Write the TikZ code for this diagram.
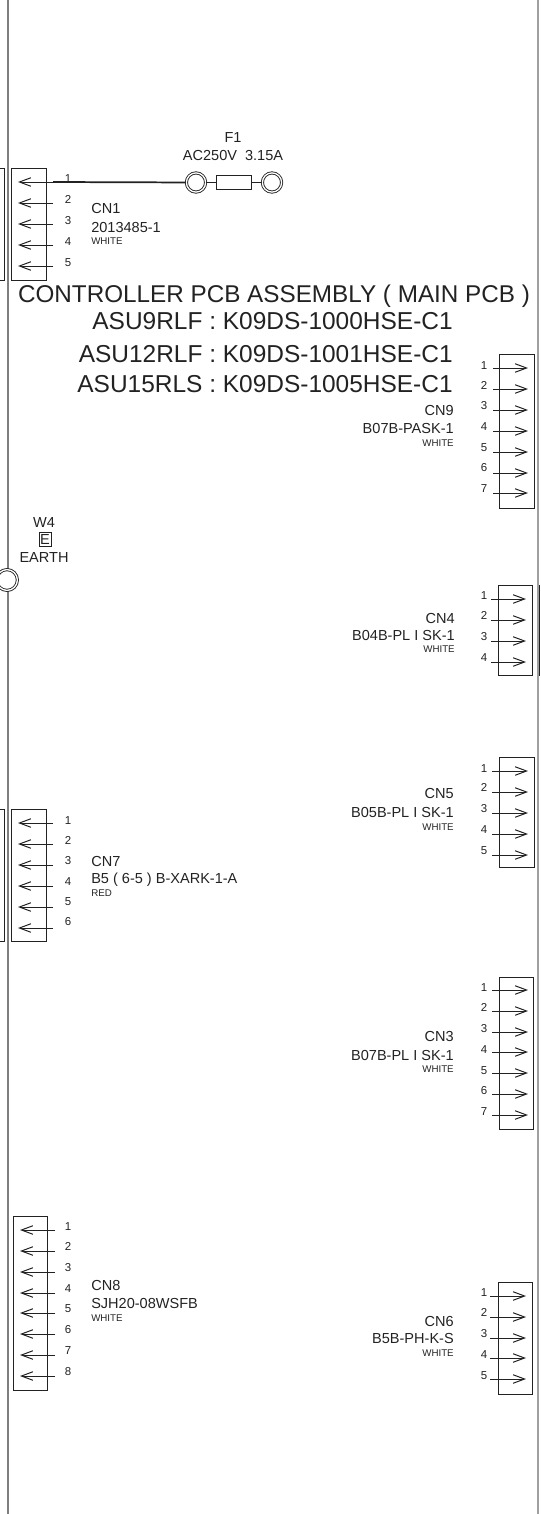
\documentclass[tikz,border=0pt]{standalone}
\usepackage{fontspec}
\setmainfont{Liberation Sans}
\usepackage{xcolor}
\usetikzlibrary{arrows.meta}
\definecolor{pcbink}{HTML}{222222}
\definecolor{pcbgray}{HTML}{7F7F7F}
\definecolor{pcbedge}{HTML}{A0A0A0}

\begin{document}
\begin{tikzpicture}[x=0.75pt,y=-0.75pt]
        \tikzset{
        pcb box/.style={rectangle,draw=pcbink,line width=0.75pt,minimum width=26.2pt,inner sep=0},
        pcb pin/.style={draw=pcbink,line width=0.75pt,-{Straight Barb[length=8.6pt,width=6.4pt]}},
        pcb num/.style={font=\fontsize{8.6}{10}\selectfont,text=pcbink,inner sep=0,text height=6.2pt,text depth=0pt},
        pcb text/.style={font=\fontsize{10.9}{12}\selectfont,text=pcbink,inner sep=0,text height=7.8pt,text depth=0pt},
        pcb color/.style={font=\fontsize{7.3}{9}\selectfont,text=pcbink,inner sep=0,text height=5.3pt,text depth=0pt},
        pcb title/.style={font=\fontsize{18.2}{20}\selectfont,text=pcbink,inner sep=0,text height=13.1pt,text depth=0pt},
        pcb model/.style={font=\fontsize{18.35}{20}\selectfont,text=pcbink,inner sep=0,text height=13.2pt,text depth=0pt},
        pcb ring/.style={circle,draw=pcbink,fill=white,line width=0.65pt,double=white,double distance=1pt,inner sep=0}
        }
        \useasboundingbox (0,0) rectangle (540,1514);

        % frame lines
        \coordinate (lefttop) at (8,0);
        \coordinate (leftend) at (8,1514);
        \coordinate (righttop) at (538,0);
        \coordinate (rightend) at (538,1514);
        \coordinate (bartop) at (539.6,585);
        \coordinate (barend) at (539.6,676);
        \draw[pcbgray,line width=1.4pt] (lefttop) -- (leftend);
        \draw[pcbedge,line width=0.9pt] (righttop) -- (rightend);
        \draw[pcbink,line width=0.9pt] (bartop) -- (barend);

        % connector bodies
        \node[pcb box,minimum height=84pt] (cn1) at (28.7,224) {};
        \node[pcb box,minimum height=84pt,minimum width=30pt] (cn1out) at (-16,224) {};
        \node[pcb box,minimum height=115.5pt,minimum width=26.6pt] (cn9) at (517,431) {};
        \node[pcb box,minimum height=68.2pt] (cn4) at (515.5,630.5) {};
        \node[pcb box,minimum height=83.2pt] (cn5) at (517,812.5) {};
        \node[pcb box,minimum height=114pt] (cn3) at (516.5,1053) {};
        \node[pcb box,minimum height=99.7pt] (cn7) at (28.7,875.5) {};
        \node[pcb box,minimum height=99.7pt,minimum width=30pt] (cn7out) at (-16,875.5) {};
        \node[pcb box,minimum height=130.5pt] (cn8) at (30.5,1303) {};
        \node[pcb box,minimum height=84pt] (cn6) at (515.5,1338) {};

        % CN1 pins
        \coordinate (cn1a1) at (53,182); \coordinate (cn1b1) at (18,182); \node[pcb num] (cn1n1) at (68,178) {1};
        \coordinate (cn1a2) at (53,203); \coordinate (cn1b2) at (18,203); \node[pcb num] (cn1n2) at (68,199) {2};
        \coordinate (cn1a3) at (53,224); \coordinate (cn1b3) at (18,224); \node[pcb num] (cn1n3) at (68,220) {3};
        \coordinate (cn1a4) at (53,245); \coordinate (cn1b4) at (18,245); \node[pcb num] (cn1n4) at (68,241) {4};
        \coordinate (cn1a5) at (53,266); \coordinate (cn1b5) at (18,266); \node[pcb num] (cn1n5) at (68,262) {5};
        % CN7 pins
        \coordinate (cn7a1) at (53,823); \coordinate (cn7b1) at (18,823); \node[pcb num] (cn7n1) at (68,820) {1};
        \coordinate (cn7a2) at (53,844); \coordinate (cn7b2) at (18,844); \node[pcb num] (cn7n2) at (68,840) {2};
        \coordinate (cn7a3) at (53,865); \coordinate (cn7b3) at (18,865); \node[pcb num] (cn7n3) at (68,860) {3};
        \coordinate (cn7a4) at (53,886); \coordinate (cn7b4) at (18,886); \node[pcb num] (cn7n4) at (68,881) {4};
        \coordinate (cn7a5) at (53,907); \coordinate (cn7b5) at (18,907); \node[pcb num] (cn7n5) at (68,901) {5};
        \coordinate (cn7a6) at (53,928); \coordinate (cn7b6) at (18,928); \node[pcb num] (cn7n6) at (68,921) {6};
        % CN8 pins
        \coordinate (cn8a1) at (55,1230); \coordinate (cn8b1) at (20,1230); \node[pcb num] (cn8n1) at (68,1226) {1};
        \coordinate (cn8a2) at (55,1251); \coordinate (cn8b2) at (20,1251); \node[pcb num] (cn8n2) at (68,1246) {2};
        \coordinate (cn8a3) at (55,1272); \coordinate (cn8b3) at (20,1272); \node[pcb num] (cn8n3) at (68,1267) {3};
        \coordinate (cn8a4) at (55,1293); \coordinate (cn8b4) at (20,1293); \node[pcb num] (cn8n4) at (68,1288) {4};
        \coordinate (cn8a5) at (55,1313); \coordinate (cn8b5) at (20,1313); \node[pcb num] (cn8n5) at (68,1308) {5};
        \coordinate (cn8a6) at (55,1334); \coordinate (cn8b6) at (20,1334); \node[pcb num] (cn8n6) at (68,1329) {6};
        \coordinate (cn8a7) at (55,1355); \coordinate (cn8b7) at (20,1355); \node[pcb num] (cn8n7) at (68,1350) {7};
        \coordinate (cn8a8) at (55,1376); \coordinate (cn8b8) at (20,1376); \node[pcb num] (cn8n8) at (68,1371) {8};
        % CN9 pins
        \coordinate (cn9a1) at (493,368); \coordinate (cn9b1) at (528,368); \node[pcb num] (cn9n1) at (484,365) {1};
        \coordinate (cn9a2) at (493,389); \coordinate (cn9b2) at (528,389); \node[pcb num] (cn9n2) at (484,385) {2};
        \coordinate (cn9a3) at (493,410); \coordinate (cn9b3) at (528,410); \node[pcb num] (cn9n3) at (484,405) {3};
        \coordinate (cn9a4) at (493,431); \coordinate (cn9b4) at (528,431); \node[pcb num] (cn9n4) at (484,426) {4};
        \coordinate (cn9a5) at (493,452); \coordinate (cn9b5) at (528,452); \node[pcb num] (cn9n5) at (484,447) {5};
        \coordinate (cn9a6) at (493,473); \coordinate (cn9b6) at (528,473); \node[pcb num] (cn9n6) at (484,467) {6};
        \coordinate (cn9a7) at (493,493); \coordinate (cn9b7) at (528,493); \node[pcb num] (cn9n7) at (484,488) {7};
        % CN4 pins
        \coordinate (cn4a1) at (491,599); \coordinate (cn4b1) at (526,599); \node[pcb num] (cn4n1) at (484,595) {1};
        \coordinate (cn4a2) at (491,620); \coordinate (cn4b2) at (526,620); \node[pcb num] (cn4n2) at (484,615) {2};
        \coordinate (cn4a3) at (491,641); \coordinate (cn4b3) at (526,641); \node[pcb num] (cn4n3) at (484,636) {3};
        \coordinate (cn4a4) at (491,662); \coordinate (cn4b4) at (526,662); \node[pcb num] (cn4n4) at (484,657) {4};
        % CN5 pins
        \coordinate (cn5a1) at (492,771); \coordinate (cn5b1) at (528,771); \node[pcb num] (cn5n1) at (484,768) {1};
        \coordinate (cn5a2) at (492,792); \coordinate (cn5b2) at (528,792); \node[pcb num] (cn5n2) at (484,787) {2};
        \coordinate (cn5a3) at (492,813); \coordinate (cn5b3) at (528,813); \node[pcb num] (cn5n3) at (484,808) {3};
        \coordinate (cn5a4) at (492,834); \coordinate (cn5b4) at (528,834); \node[pcb num] (cn5n4) at (484,829) {4};
        \coordinate (cn5a5) at (492,855); \coordinate (cn5b5) at (528,855); \node[pcb num] (cn5n5) at (484,850) {5};
        % CN3 pins
        \coordinate (cn3a1) at (492,990); \coordinate (cn3b1) at (528,990); \node[pcb num] (cn3n1) at (484,987) {1};
        \coordinate (cn3a2) at (492,1011); \coordinate (cn3b2) at (528,1011); \node[pcb num] (cn3n2) at (484,1007) {2};
        \coordinate (cn3a3) at (492,1032); \coordinate (cn3b3) at (528,1032); \node[pcb num] (cn3n3) at (484,1028) {3};
        \coordinate (cn3a4) at (492,1052); \coordinate (cn3b4) at (528,1052); \node[pcb num] (cn3n4) at (484,1049) {4};
        \coordinate (cn3a5) at (492,1073); \coordinate (cn3b5) at (528,1073); \node[pcb num] (cn3n5) at (484,1070) {5};
        \coordinate (cn3a6) at (492,1094); \coordinate (cn3b6) at (528,1094); \node[pcb num] (cn3n6) at (484,1090) {6};
        \coordinate (cn3a7) at (492,1115); \coordinate (cn3b7) at (528,1115); \node[pcb num] (cn3n7) at (484,1111) {7};
        % CN6 pins
        \coordinate (cn6a1) at (490,1296); \coordinate (cn6b1) at (526,1296); \node[pcb num] (cn6n1) at (484,1292) {1};
        \coordinate (cn6a2) at (490,1317); \coordinate (cn6b2) at (526,1317); \node[pcb num] (cn6n2) at (484,1312) {2};
        \coordinate (cn6a3) at (490,1338); \coordinate (cn6b3) at (526,1338); \node[pcb num] (cn6n3) at (484,1333) {3};
        \coordinate (cn6a4) at (490,1358); \coordinate (cn6b4) at (526,1358); \node[pcb num] (cn6n4) at (484,1354) {4};
        \coordinate (cn6a5) at (490,1379); \coordinate (cn6b5) at (526,1379); \node[pcb num] (cn6n5) at (484,1375) {5};

        \path
        (cn1a1) edge[pcb pin] (cn1b1)
        (cn1a2) edge[pcb pin] (cn1b2)
        (cn1a3) edge[pcb pin] (cn1b3)
        (cn1a4) edge[pcb pin] (cn1b4)
        (cn1a5) edge[pcb pin] (cn1b5)
        (cn7a1) edge[pcb pin] (cn7b1)
        (cn7a2) edge[pcb pin] (cn7b2)
        (cn7a3) edge[pcb pin] (cn7b3)
        (cn7a4) edge[pcb pin] (cn7b4)
        (cn7a5) edge[pcb pin] (cn7b5)
        (cn7a6) edge[pcb pin] (cn7b6)
        (cn8a1) edge[pcb pin] (cn8b1)
        (cn8a2) edge[pcb pin] (cn8b2)
        (cn8a3) edge[pcb pin] (cn8b3)
        (cn8a4) edge[pcb pin] (cn8b4)
        (cn8a5) edge[pcb pin] (cn8b5)
        (cn8a6) edge[pcb pin] (cn8b6)
        (cn8a7) edge[pcb pin] (cn8b7)
        (cn8a8) edge[pcb pin] (cn8b8)
        (cn9a1) edge[pcb pin] (cn9b1)
        (cn9a2) edge[pcb pin] (cn9b2)
        (cn9a3) edge[pcb pin] (cn9b3)
        (cn9a4) edge[pcb pin] (cn9b4)
        (cn9a5) edge[pcb pin] (cn9b5)
        (cn9a6) edge[pcb pin] (cn9b6)
        (cn9a7) edge[pcb pin] (cn9b7)
        (cn4a1) edge[pcb pin] (cn4b1)
        (cn4a2) edge[pcb pin] (cn4b2)
        (cn4a3) edge[pcb pin] (cn4b3)
        (cn4a4) edge[pcb pin] (cn4b4)
        (cn5a1) edge[pcb pin] (cn5b1)
        (cn5a2) edge[pcb pin] (cn5b2)
        (cn5a3) edge[pcb pin] (cn5b3)
        (cn5a4) edge[pcb pin] (cn5b4)
        (cn5a5) edge[pcb pin] (cn5b5)
        (cn3a1) edge[pcb pin] (cn3b1)
        (cn3a2) edge[pcb pin] (cn3b2)
        (cn3a3) edge[pcb pin] (cn3b3)
        (cn3a4) edge[pcb pin] (cn3b4)
        (cn3a5) edge[pcb pin] (cn3b5)
        (cn3a6) edge[pcb pin] (cn3b6)
        (cn3a7) edge[pcb pin] (cn3b7)
        (cn6a1) edge[pcb pin] (cn6b1)
        (cn6a2) edge[pcb pin] (cn6b2)
        (cn6a3) edge[pcb pin] (cn6b3)
        (cn6a4) edge[pcb pin] (cn6b4)
        (cn6a5) edge[pcb pin] (cn6b5)
        ;

        % fuse F1
        \node[pcb ring,minimum size=14.4pt] (f1a) at (196,182.5) {};
        \node[pcb ring,minimum size=14.4pt] (f1b) at (272,182.5) {};
        \node[pcb box,minimum width=26.2pt,minimum height=10.5pt] (fuse) at (234,182.5) {};
        \draw[pcbink,line width=1.3pt] (cn1a1) -- (f1a);
        \draw[pcbink,line width=1.3pt] (f1a) -- (fuse);
        \draw[pcbink,line width=1.3pt] (fuse) -- (f1b);
        \node[pcb text] (f1name) at (233,137) {F1};
        \node[pcb text] (f1rate) at (233,155) {AC250V\ \ 3.15A};

        % earth W4
        \node[pcb ring,minimum size=15.6pt] (w4) at (7,580) {};
        \node[pcb text] (w4name) at (44,522) {W4};
        \node[pcb box,minimum width=9pt,minimum height=10.5pt,line width=0.5pt] (w4box) at (45,539) {};
        \node[pcb text] (w4e) at (45,539) {E};
        \node[pcb text] (w4earth) at (44,557) {EARTH};

        % board titles
        \node[pcb title] (title) at (274,294) {CONTROLLER PCB ASSEMBLY ( MAIN PCB )};
        \node[pcb model,anchor=east] (asu9) at (453,321) {ASU9RLF : K09DS-1000HSE-C1};
        \node[pcb model,anchor=east] (asu12) at (453,354) {ASU12RLF : K09DS-1001HSE-C1};
        \node[pcb model,anchor=east] (asu15) at (453,384) {ASU15RLS : K09DS-1005HSE-C1};

        % connector labels
        \node[pcb text,anchor=west] (cn1name) at (91,208) {CN1};
        \node[pcb text,anchor=west] (cn1part) at (91,227) {2013485-1};
        \node[pcb color,anchor=west] (cn1col) at (91,240.5) {WHITE};
        \node[pcb text,anchor=west] (cn7name) at (91,861) {CN7};
        \node[pcb text,anchor=west] (cn7part) at (91,878) {B5 ( 6-5 ) B-XARK-1-A};
        \node[pcb color,anchor=west] (cn7col) at (91,892.5) {RED};
        \node[pcb text,anchor=west] (cn8name) at (91,1285) {CN8};
        \node[pcb text,anchor=west] (cn8part) at (91,1303) {SJH20-08WSFB};
        \node[pcb color,anchor=west] (cn8col) at (91,1317.5) {WHITE};
        \node[pcb text,anchor=east] (cn9name) at (454,410) {CN9};
        \node[pcb text,anchor=east] (cn9part) at (454,428) {B07B-PASK-1};
        \node[pcb color,anchor=east] (cn9col) at (454,442.5) {WHITE};
        \node[pcb text,anchor=east] (cn4name) at (455,618) {CN4};
        \node[pcb text,anchor=east] (cn4part) at (455,635) {B04B-PL I SK-1};
        \node[pcb color,anchor=east] (cn4col) at (455,648.5) {WHITE};
        \node[pcb text,anchor=east] (cn5name) at (454,793) {CN5};
        \node[pcb text,anchor=east] (cn5part) at (454,812) {B05B-PL I SK-1};
        \node[pcb color,anchor=east] (cn5col) at (454,826.5) {WHITE};
        \node[pcb text,anchor=east] (cn3name) at (454,1036) {CN3};
        \node[pcb text,anchor=east] (cn3part) at (454,1055) {B07B-PL I SK-1};
        \node[pcb color,anchor=east] (cn3col) at (454,1068.5) {WHITE};
        \node[pcb text,anchor=east] (cn6name) at (454,1321) {CN6};
        \node[pcb text,anchor=east] (cn6part) at (454,1338) {B5B-PH-K-S};
        \node[pcb color,anchor=east] (cn6col) at (454,1352.5) {WHITE};
    \end{tikzpicture}
\end{document}
